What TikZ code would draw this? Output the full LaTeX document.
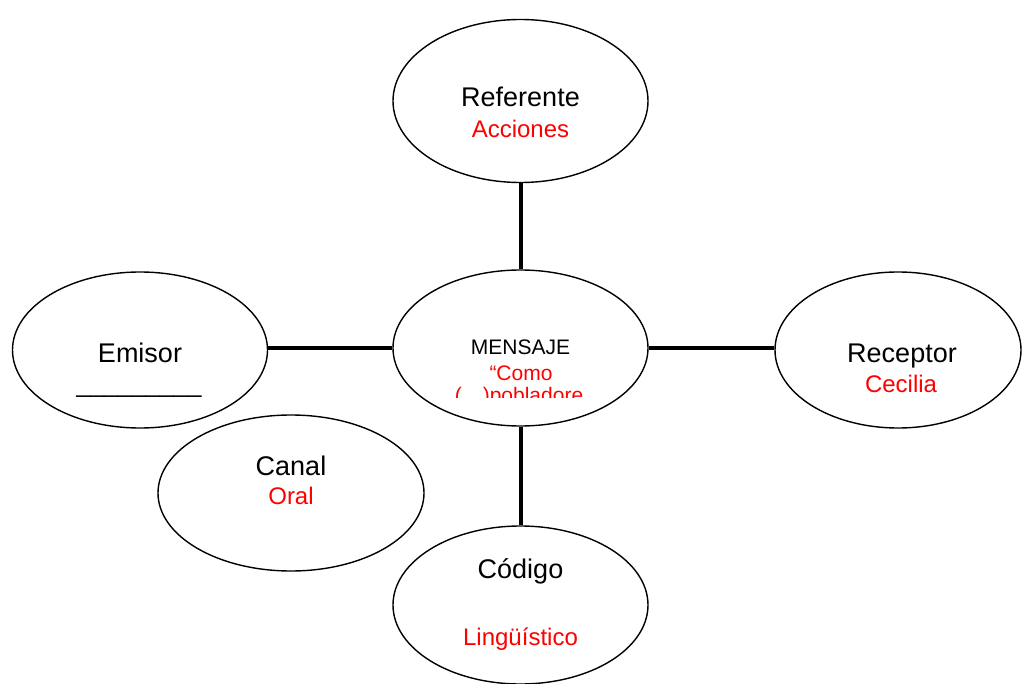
\documentclass[tikz,border=0pt]{standalone}
\usepackage{fontspec}
\setmainfont{Liberation Sans}
\usetikzlibrary{shapes.geometric}
\definecolor{txtred}{RGB}{255,0,0}
\tikzset{
  oval/.style={ellipse, draw=black, line width=1.4pt, fill=white, inner sep=0pt},
  link/.style={line width=4pt, black},
  lbl/.style={anchor=base, inner sep=0pt, font=\fontsize{27}{32}\selectfont},
  redlbl/.style={anchor=base, inner sep=0pt, font=\fontsize{24}{28}\selectfont, text=txtred},
  small/.style={anchor=base, inner sep=0pt, font=\fontsize{21}{24}\selectfont},
}
\begin{document}
\begin{tikzpicture}[x=1pt,y=-1pt]
\useasboundingbox (0,0) rectangle (1022,684);
% ellipses
\node[oval, minimum width=255pt, minimum height=163pt] (ref) at (520.5,101) {};
\node[oval, minimum width=255pt, minimum height=156pt] (men) at (520.5,348) {};
\node[oval, minimum width=255pt, minimum height=156pt] (emi) at (140,350) {};
\node[oval, minimum width=246pt, minimum height=156pt] (rec) at (898,350) {};
\node[oval, minimum width=266pt, minimum height=156pt] (can) at (291,493) {};
\node[oval, minimum width=255pt, minimum height=158pt] (cod) at (520.5,605) {};
% connectors
\draw[link] (ref.south) -- (men.north);
\draw[link] (emi.east |- men.west) -- (men.west);
\draw[link] (men.east) -- (rec.west |- men.east);
\draw[link] (men.south) -- (cod.north);
% texts
\node[lbl] (t1) at (520.5,107) {Referente};
\node[redlbl] (t2) at (520.5,138) {Acciones};
\node[lbl] (t3) at (140,362) {Emisor};
\node[lbl, font=\fontsize{25}{30}\selectfont] (t4) at (139,392) {\_\_\_\_\_\_\_\_\_};
\node[lbl] (t5) at (902,362) {Receptor};
\node[redlbl] (t6) at (901,392) {Cecilia};
\node[lbl] (t7) at (291,475) {Canal};
\node[redlbl] (t8) at (291,504) {Oral};
\node[lbl] (t9) at (520.5,578) {Código};
\node[redlbl] (t10) at (520.5,645) {Lingüístico};
\node[small] (t11) at (520.5,355) {MENSAJE};
\begin{scope}
\clip (400,250) rectangle (640,397);
\node[small, text=txtred] (t12) at (521,380) {“Como};
\node[small, text=txtred] (t13) at (519,402) {(…)pobladore};
\end{scope}
\end{tikzpicture}
\end{document}
